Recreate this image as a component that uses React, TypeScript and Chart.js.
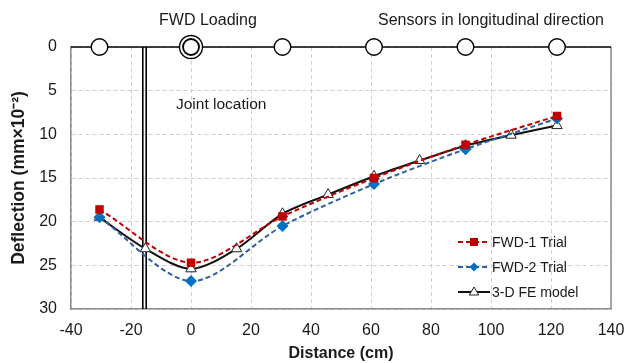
import React, { useEffect, useRef } from "react";
import { Chart, registerables } from "chart.js";

Chart.register(...registerables);

// Data
const fwdDistances = [-30.5, 0, 30.5, 61, 91.5, 122];
const fwd1Values = [18.6, 24.7, 19.4, 15.0, 11.2, 7.9];
const fwd2Values = [19.5, 26.8, 20.5, 15.7, 11.7, 8.2];
const feDistances = [-30.5, -15.2, 0, 15.2, 30.5, 45.7, 61, 76.2, 91.5, 106.7, 122];
const feValues = [19.5, 23.1, 25.4, 23.1, 19.1, 16.9, 14.8, 13.0, 11.3, 10.1, 9.0];
const sensorDistances = [-30.5, 0, 30.5, 61, 91.5, 122];
const loadingDistance = 0;
const jointDistance = -15.5;
const seriesNames = ["FWD-1 Trial", "FWD-2 Trial", "3-D FE model"];
const xTitle = "Distance (cm)";
const yTitle = "Deflection (mm\u00d710\u207b\u00b2)";

const FONT = 'Arial, "Liberation Sans", sans-serif';
const RED = "#C00000";
const BLUE_LINE = "#2E5E9E";
const BLUE_MARK = "#0070C0";

const toPts = (xs: number[], ys: number[]) => xs.map((x, i) => ({ x, y: ys[i] }));

export default function App() {
  const ref = useRef<HTMLCanvasElement | null>(null);

  useEffect(() => {
    if (!ref.current) return;

    const overlay = {
      id: "overlay",
      beforeDatasetsDraw(chart: any) {
        const { ctx, chartArea, scales } = chart;
        const xs = scales.x;
        const jx = xs.getPixelForValue(jointDistance);
        ctx.save();
        ctx.strokeStyle = "#000";
        ctx.lineWidth = 1.6;
        [-1.7, 1.7].forEach((d) => {
          ctx.beginPath();
          ctx.moveTo(jx + d, chartArea.top);
          ctx.lineTo(jx + d, chartArea.bottom);
          ctx.stroke();
        });
        ctx.restore();
      },
      afterDraw(chart: any) {
        const { ctx, chartArea, scales } = chart;
        const xs = scales.x;
        const ys = scales.y;
        ctx.save();
        ctx.strokeStyle = "#8c8c8c";
        ctx.lineWidth = 1.5;
        ctx.beginPath();
        ctx.moveTo(chartArea.right, chartArea.top);
        ctx.lineTo(chartArea.right, chartArea.bottom);
        ctx.stroke();
        const y0 = ys.getPixelForValue(0);
        ctx.strokeStyle = "#000";
        ctx.lineWidth = 1.3;
        ctx.beginPath();
        ctx.moveTo(chartArea.left, y0);
        ctx.lineTo(chartArea.right, y0);
        ctx.stroke();
        sensorDistances.forEach((d) => {
          const px = xs.getPixelForValue(d);
          if (d === loadingDistance) {
            ctx.beginPath();
            ctx.arc(px, y0, 11.5, 0, Math.PI * 2);
            ctx.fillStyle = "#fff";
            ctx.fill();
            ctx.lineWidth = 1.4;
            ctx.stroke();
            ctx.beginPath();
            ctx.arc(px, y0, 8, 0, Math.PI * 2);
            ctx.lineWidth = 1.8;
            ctx.stroke();
          } else {
            ctx.beginPath();
            ctx.arc(px, y0, 8.3, 0, Math.PI * 2);
            ctx.fillStyle = "#fff";
            ctx.fill();
            ctx.lineWidth = 1.4;
            ctx.stroke();
          }
        });
        ctx.fillStyle = "#1a1a1a";
        ctx.textBaseline = "middle";
        ctx.textAlign = "center";
        ctx.font = `16px ${FONT}`;
        ctx.fillText("FWD Loading", xs.getPixelForValue(loadingDistance) + 17, 21);
        ctx.fillText("Sensors in longitudinal direction", 491, 21);
        ctx.font = `15.5px ${FONT}`;
        ctx.textAlign = "left";
        ctx.fillText("Joint location", 176, 105);

        // legend
        const lx0 = 458;
        const lx1 = 490;
        const rows = [242, 267, 292];
        const ds = chart.data.datasets;
        [0, 1, 2].forEach((di, r) => {
          const d = ds[di];
          const yy = rows[r];
          ctx.save();
          ctx.strokeStyle = d.borderColor;
          ctx.lineWidth = d.borderWidth;
          ctx.setLineDash(d.borderDash || []);
          ctx.beginPath();
          ctx.moveTo(lx0, yy);
          ctx.lineTo(lx1, yy);
          ctx.stroke();
          ctx.restore();
          const mx = (lx0 + lx1) / 2;
          const rad = di === 0 ? 5 : di === 1 ? 4.5 : 5;
          ctx.save();
          ctx.fillStyle = d.pointBackgroundColor;
          ctx.strokeStyle = d.pointBorderColor;
          ctx.lineWidth = d.pointBorderWidth;
          ctx.beginPath();
          if (d.pointStyle === "rect") {
            ctx.rect(mx - rad * 0.8, yy - rad * 0.8, rad * 1.6, rad * 1.6);
            ctx.fill();
          } else if (d.pointStyle === "rectRot") {
            ctx.moveTo(mx, yy - rad);
            ctx.lineTo(mx + rad, yy);
            ctx.lineTo(mx, yy + rad);
            ctx.lineTo(mx - rad, yy);
            ctx.closePath();
            ctx.fill();
          } else {
            ctx.moveTo(mx, yy - rad);
            ctx.lineTo(mx + rad * 0.95, yy + rad * 0.6);
            ctx.lineTo(mx - rad * 0.95, yy + rad * 0.6);
            ctx.closePath();
            ctx.fill();
            ctx.stroke();
          }
          ctx.restore();
          ctx.fillStyle = "#1a1a1a";
          ctx.font = `14px ${FONT}`;
          ctx.textAlign = "left";
          ctx.textBaseline = "middle";
          ctx.fillText(d.label, 492, yy + 1);
        });
        ctx.restore();
      },
    };

    const chart = new Chart(ref.current, {
      type: "scatter",
      data: {
        datasets: [
          {
            label: seriesNames[0],
            data: toPts(fwdDistances, fwd1Values),
            showLine: true,
            borderColor: RED,
            borderWidth: 2,
            borderDash: [5, 3],
            tension: 0.3,
            pointStyle: "rect",
            pointRadius: 6,
            pointBackgroundColor: RED,
            pointBorderColor: RED,
            pointBorderWidth: 0,
            order: 1,
          },
          {
            label: seriesNames[1],
            data: toPts(fwdDistances, fwd2Values),
            showLine: true,
            borderColor: BLUE_LINE,
            borderWidth: 2,
            borderDash: [5, 3],
            tension: 0.3,
            pointStyle: "rectRot",
            pointRadius: 6,
            pointBackgroundColor: BLUE_MARK,
            pointBorderColor: BLUE_MARK,
            pointBorderWidth: 0,
            order: 2,
          },
          {
            label: seriesNames[2],
            data: toPts(feDistances, feValues),
            showLine: true,
            borderColor: "#111",
            borderWidth: 2,
            tension: 0.3,
            pointStyle: "triangle",
            pointRadius: 6,
            pointBackgroundColor: "#fff",
            pointBorderColor: "#222",
            pointBorderWidth: 1,
            order: 3,
          },
        ],
      },
      options: {
        responsive: false,
        animation: false,
        layout: { padding: { top: 47, right: 15, left: 0, bottom: 0 } },
        plugins: { legend: { display: false }, tooltip: { enabled: false } },
        scales: {
          x: {
            type: "linear",
            min: -40,
            max: 140,
            ticks: { stepSize: 20, color: "#1a1a1a", font: { family: FONT, size: 16 }, padding: 12 },
            grid: { color: "#cfcfcf", drawTicks: false, lineWidth: 1 },
            border: { display: true, color: "#8c8c8c", width: 1.5, dash: [4, 3] },
            title: {
              display: true,
              text: xTitle,
              color: "#1a1a1a",
              font: { family: FONT, size: 16, weight: "bold" },
              padding: { top: 0, bottom: 0 },
            },
            afterFit: (axis: any) => {
              axis.height = 54;
              axis.paddingLeft = 0;
              axis.paddingRight = 0;
            },
          },
          y: {
            type: "linear",
            min: 0,
            max: 30,
            reverse: true,
            ticks: { stepSize: 5, color: "#1a1a1a", font: { family: FONT, size: 16 }, padding: 14 },
            grid: { color: "#cfcfcf", drawTicks: false, lineWidth: 1 },
            border: { display: true, color: "#8c8c8c", width: 1.5, dash: [4, 3] },
            title: {
              display: true,
              text: yTitle,
              color: "#1a1a1a",
              font: { family: FONT, size: 17.5, weight: "bold" },
              padding: { top: 9, bottom: 0 },
            },
            afterFit: (axis: any) => {
              axis.width = 71;
              axis.paddingTop = 0;
              axis.paddingBottom = 0;
            },
          },
        },
      },
      plugins: [overlay],
    } as any);

    return () => chart.destroy();
  }, []);

  return (
    <div style={{ position: "absolute", left: 0, top: 0, width: 626, height: 363, background: "#fff" }}>
      <canvas ref={ref} width={626} height={363} style={{ width: 626, height: 363 }} />
    </div>
  );
}
